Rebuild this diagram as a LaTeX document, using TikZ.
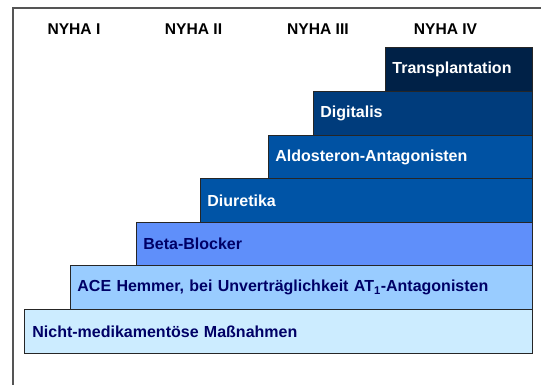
\documentclass[tikz,border=0pt]{standalone}
\usepackage{fontspec}
\setmainfont{Liberation Sans}
\definecolor{cTrans}{HTML}{002147}
\definecolor{cDig}{HTML}{003C7C}
\definecolor{cAldo}{HTML}{0052A3}
\definecolor{cDiu}{HTML}{0054A6}
\definecolor{cBeta}{HTML}{5F8FFA}
\definecolor{cAce}{HTML}{99CCFF}
\definecolor{cNicht}{HTML}{CCECFF}
\definecolor{cDark}{HTML}{000066}
\definecolor{cFrame}{HTML}{555555}
\tikzset{
  stair/.style={draw=black!85, line width=0.8pt, anchor=north west, inner xsep=7pt, inner ysep=0pt,
    align=left, font=\fontsize{16}{19}\selectfont\bfseries},
  lighttext/.style={text=white},
  darktext/.style={text=cDark},
  hdr/.style={font=\fontsize{15.6}{18}\selectfont\bfseries, text=black}
}
\begin{document}
\begin{tikzpicture}[x=1pt,y=-1pt]
\useasboundingbox (0,0) rectangle (541,385);
\draw[cFrame, line width=1.4pt] (13,385) -- (13,8) -- (541,8);
\node[hdr] (h1) at (74,29) {NYHA I};
\node[hdr] (h2) at (193.5,29) {NYHA II};
\node[hdr] (h3) at (318,29) {NYHA III};
\node[hdr] (h4) at (445.5,29) {NYHA IV};
\node[stair, lighttext, fill=cTrans, text width=147-14, minimum height=44] (t) at (385,47) {Transplantation};
\node[stair, lighttext, fill=cDig, text width=219-14, minimum height=44] (d) at (313,91) {Digitalis};
\node[stair, lighttext, fill=cAldo, text width=264-14, minimum height=43] (a) at (268,135) {Aldosteron-Antagonisten};
\node[stair, lighttext, fill=cDiu, text width=332-14, minimum height=44] (u) at (200,178) {Diuretika};
\node[stair, darktext, fill=cBeta, text width=396-14, minimum height=43] (b) at (136,222) {Beta-Blocker};
\node[stair, darktext, fill=cAce, text width=462-14, minimum height=44] (c) at (70,265) {ACE Hemmer, bei Unverträglichkeit AT\textsubscript{1}-Antagonisten};
\node[stair, darktext, fill=cNicht, text width=508-16, inner xsep=8pt, minimum height=44] (n) at (24,309) {Nicht-medikamentöse Maßnahmen};
\end{tikzpicture}
\end{document}
